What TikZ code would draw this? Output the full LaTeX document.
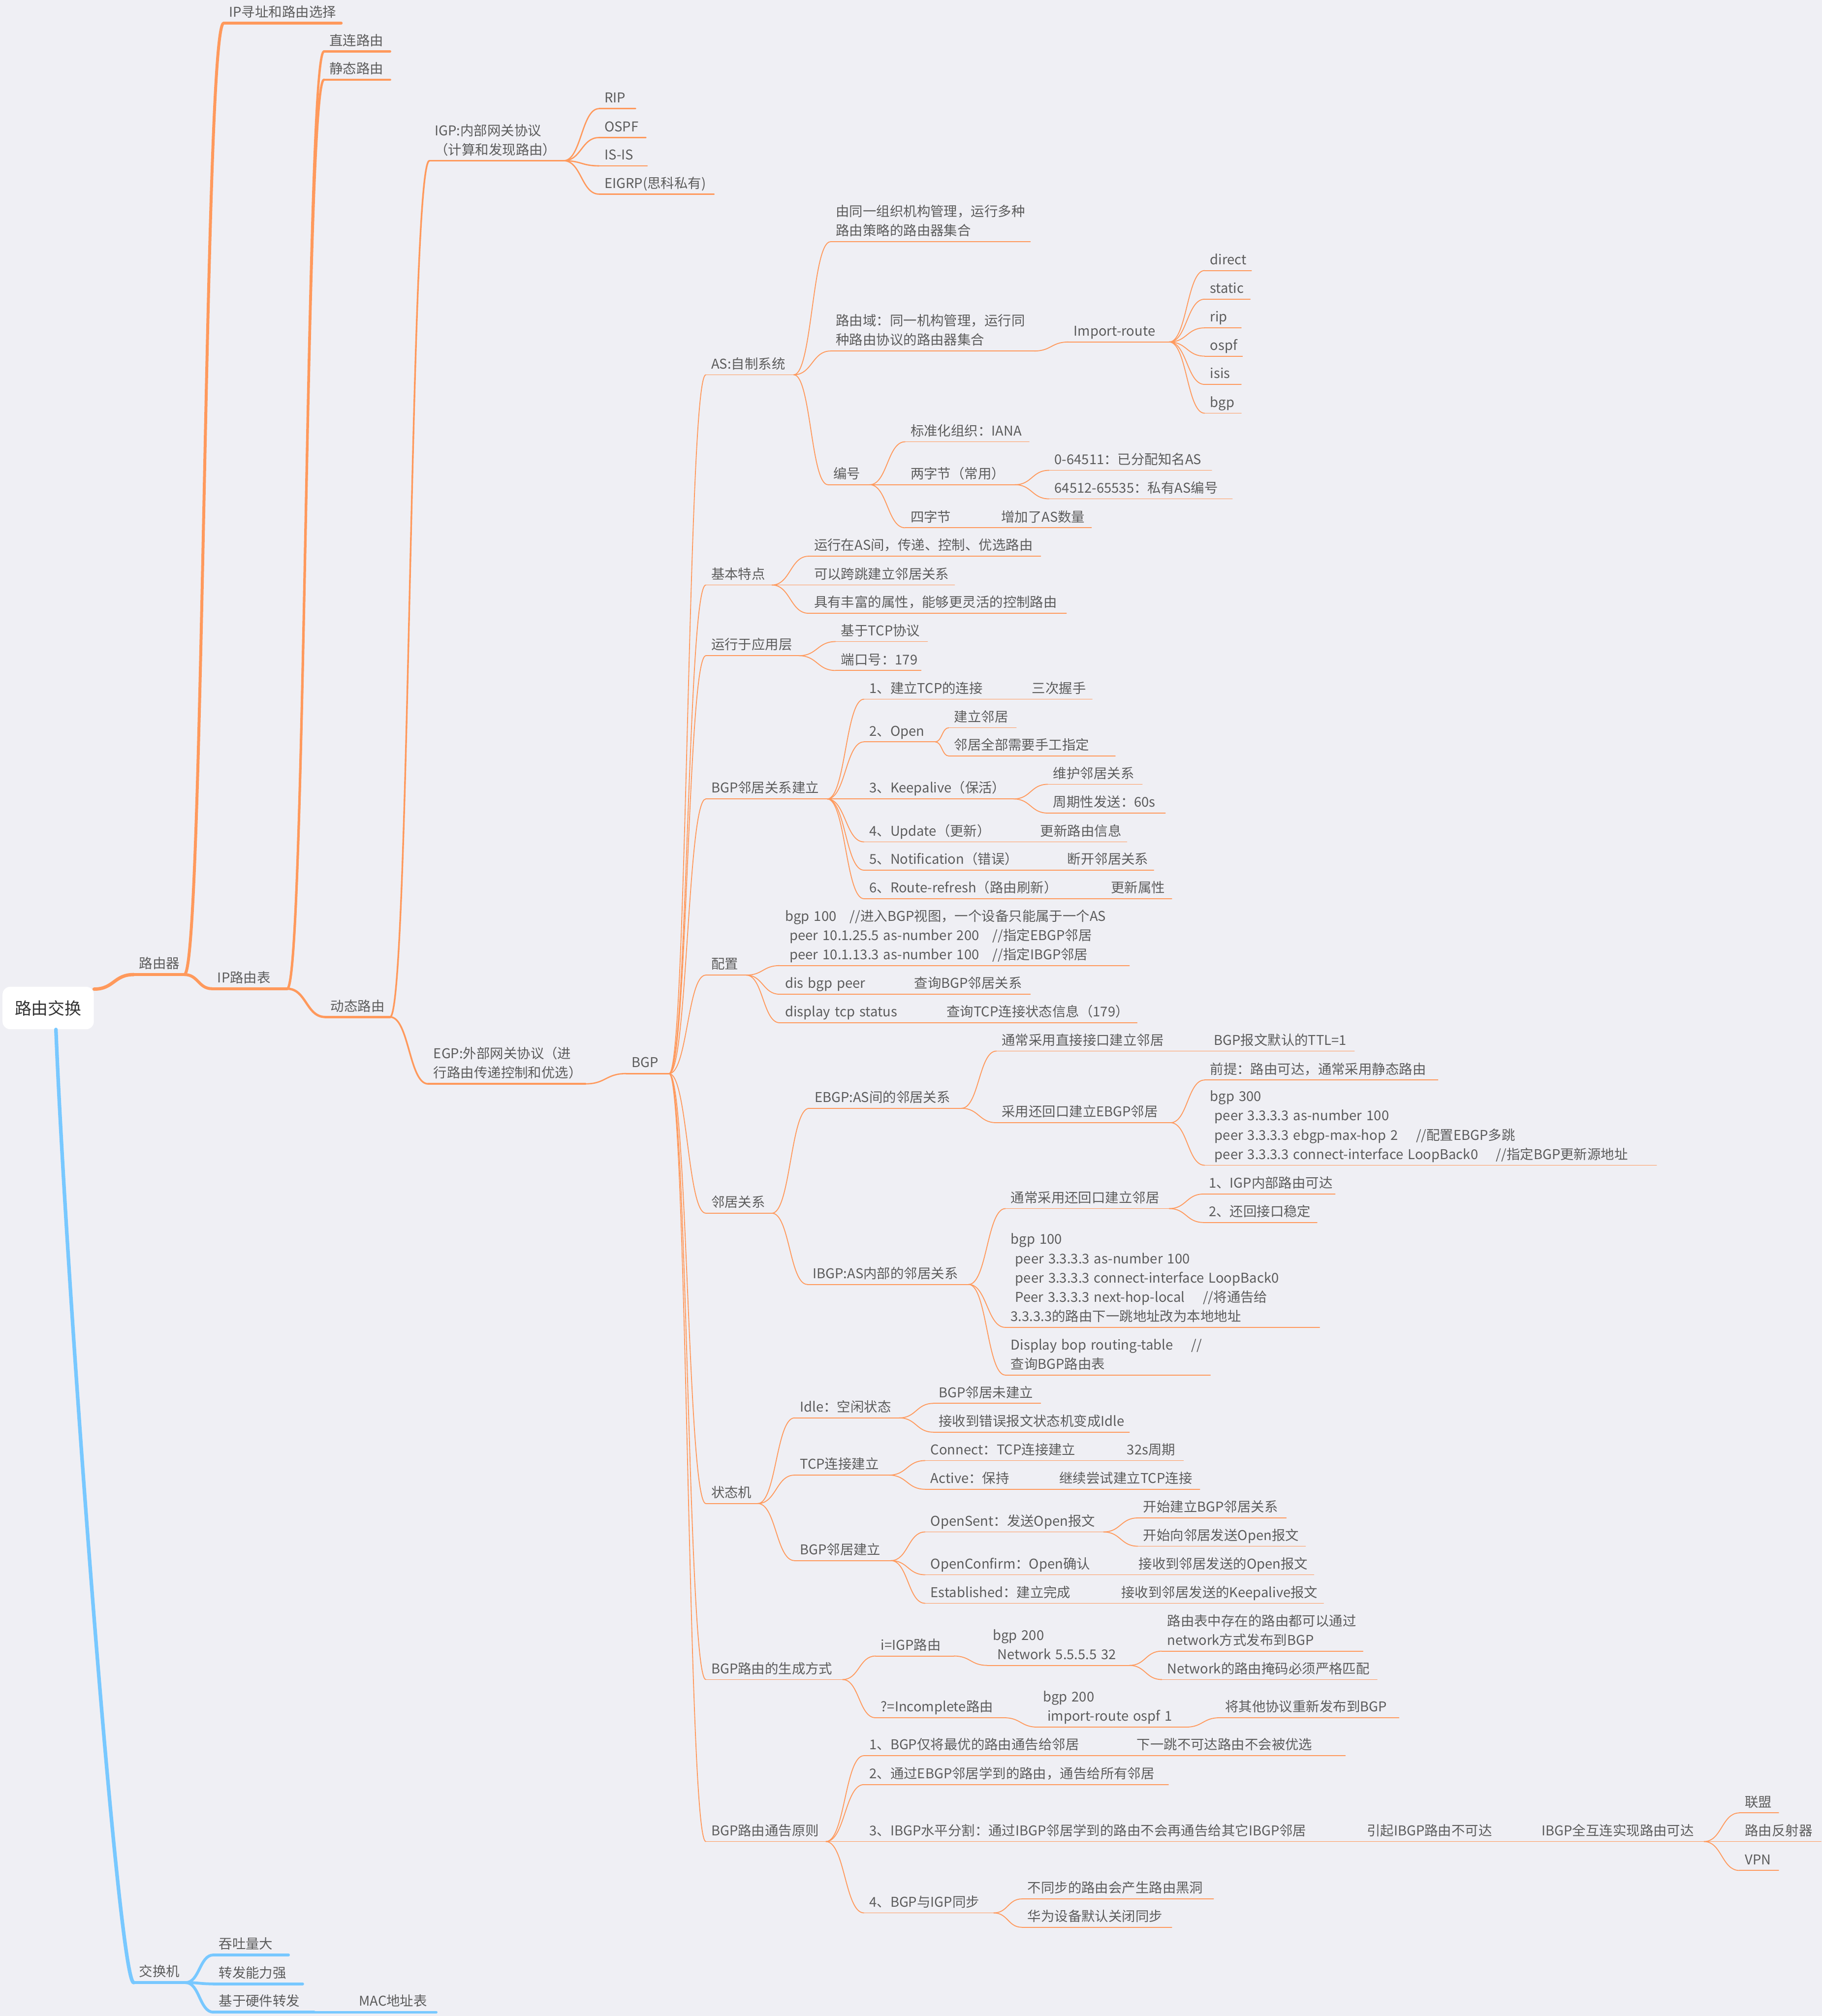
\documentclass[tikz,border=0pt]{standalone}
\usepackage{fontspec}
\setmainfont{Noto Sans CJK SC}
\usetikzlibrary{calc}
\definecolor{bg}{RGB}{239,239,244}
\definecolor{orng}{RGB}{255,153,92}
\definecolor{sky}{RGB}{120,200,255}
\definecolor{txt}{RGB}{92,92,92}
\definecolor{ink}{RGB}{51,51,51}
\begin{document}
\begin{tikzpicture}[x=1pt, y=-1pt,
  topic/.style={anchor=south west, inner xsep=4pt, inner ysep=0pt, align=left,
    text=txt, font=\fontsize{10.5}{15}\selectfont,
    execute at begin node={\hyphenpenalty=10000 \exhyphenpenalty=10000},
    execute at end node=\strut, text width=#1-8},
  ul/.style 2 args={append after command={(\tikzlastnode.south west)
    edge[line width=#1, draw=#2, line cap=round] (\tikzlastnode.south east)}},
  lvA/.style={topic=#1, ul={2.4pt}{orng}},
  lvB/.style={topic=#1, ul={2.2pt}{orng}},
  lvC/.style={topic=#1, ul={1.8pt}{orng}},
  lvD/.style={topic=#1, ul={1.3pt}{orng}},
  lvE/.style={topic=#1, ul={1pt}{orng}},
  lvF/.style={topic=#1, ul={0.7pt}{orng}},
  swA/.style={topic=#1, ul={2.4pt}{sky}},
  swB/.style={topic=#1, ul={2.2pt}{sky}},
  swC/.style={topic=#1, ul={1.8pt}{sky}},
  rootbox/.style={fill=white, rounded corners=6pt, minimum width=71pt,
    minimum height=33pt, inner sep=0pt, text=ink, font=\fontsize{13}{16}\selectfont},
  link/.style={line cap=round, to path={let \p1=(\tikztostart), \p2=(\tikztotarget) in
    .. controls ({(\x1+\x2)/2},\y1) and ({(\x1+\x2)/2},\y2) .. (\tikztotarget)}},
]

\useasboundingbox (0,0) rectangle (1417,1568);
\fill[bg] (0,0) rectangle (1417,1568);

%root
\node[rootbox] (root) at (37.5,784) {路由交换};

%router side
\node[lvA=39] (router) at (104,758) {路由器};
\node[lvB=91] (ipaddr) at (174,18) {IP寻址和路由选择};
\node[lvB=58] (iptable) at (165,769) {IP路由表};
\node[lvC=51] (direct) at (252,40) {直连路由};
\node[lvC=51] (static) at (252,62) {静态路由};
\node[lvC=50] (dynamic) at (253,791) {动态路由};
\node[lvD=104] (igp) at (334,125) {IGP:内部网关协议\\（计算和发现路由）};
\node[lvD=122] (egp) at (333,843) {EGP:外部网关协议（进\\行路由传递控制和优选）};
\node[lvE=28] (rip) at (466,84.5) {RIP};
\node[lvE=36] (ospf) at (466,107) {OSPF};
\node[lvE=37] (isis) at (466,129) {IS-IS};
\node[lvE=89] (eigrp) at (466,151) {EIGRP(思科私有)};
\node[lvE=33] (bgp) at (487,835) {BGP};

%bgp topics
\node[lvF=68] (as) at (549,291.5) {AS:自制系统};
\node[lvF=51] (basic) at (549,455) {基本特点};
\node[lvF=72] (app) at (549,510) {运行于应用层};
\node[lvF=94] (nbest) at (549,621.4) {BGP邻居关系建立};
\node[lvF=31] (cfg) at (549,758.4) {配置};
\node[lvF=51] (nbr) at (549,943.6) {邻居关系};
\node[lvF=40] (fsm) at (549,1169.4) {状态机};
\node[lvF=106] (gen) at (549,1306.3) {BGP路由的生成方式};
\node[lvF=93] (adv) at (549,1432.3) {BGP路由通告原则};

%as
\node[lvF=155] (asorg) at (646,188) {由同一组织机构管理，运行多种\\路由策略的路由器集合};
\node[lvF=158] (asdom) at (646,273) {路由域：同一机构管理，运行同\\种路由协议的路由器集合};
\node[lvF=78] (imp) at (831,266) {Import-route};
\node[lvF=36] (ird) at (937,210.4) {direct};
\node[lvF=35] (irs) at (937,232.7) {static};
\node[lvF=28] (irr) at (937,255) {rip};
\node[lvF=29] (iro) at (937,277) {ospf};
\node[lvF=28] (iri) at (937,299) {isis};
\node[lvF=28] (irb) at (937,321.4) {bgp};
\node[lvF=32] (asnum) at (644,377) {编号};
\node[lvF=96] (iana) at (704,343.6) {标准化组织：IANA};
\node[lvF=85] (two) at (704,377) {两字节（常用）};
\node[lvF=126] (pub) at (816,365.8) {0-64511：已分配知名AS};
\node[lvF=142] (priv) at (816,388) {64512-65535：私有AS编号};
\node[lvF=41] (four) at (704,410.5) {四字节};
\node[lvF=74] (more) at (774.5,410.5) {增加了AS数量};

%basic
\node[lvF=180] (bas1) at (629,432.6) {运行在AS间，传递、控制、优选路由};
\node[lvF=113] (bas2) at (629,455) {可以跨跳建立邻居关系};
\node[lvF=200] (bas3) at (629,477) {具有丰富的属性，能够更灵活的控制路由};
\node[lvF=71] (app1) at (650,499) {基于TCP协议};
\node[lvF=66] (app2) at (650,521.5) {端口号：179};

%neighbour setup
\node[lvF=97] (st1) at (672,543.8) {1、建立TCP的连接};
\node[lvF=50.5] (st1a) at (798.5,543.8) {三次握手};
\node[lvF=55] (st2) at (672,577) {2、Open};
\node[lvF=52] (st2a) at (738,566) {建立邻居};
\node[lvF=129] (st2b) at (738,588) {邻居全部需要手工指定};
\node[lvF=116] (st3) at (672,621.4) {3、Keepalive（保活）};
\node[lvF=73] (st3a) at (815,610) {维护邻居关系};
\node[lvF=91] (st3b) at (815,632.4) {周期性发送：60s};
\node[lvF=99] (st4) at (672,654.8) {4、Update（更新）};
\node[lvF=71] (st4a) at (805,654.8) {更新路由信息};
\node[lvF=120] (st5) at (672,676.8) {5、Notification（错误）};
\node[lvF=71] (st5a) at (826,676.8) {断开邻居关系};
\node[lvF=153] (st6) at (672,699) {6、Route-refresh（路由刷新）};
\node[lvF=51] (st6a) at (860,699) {更新属性};

%config
\node[lvF=271.5] (cfg1) at (606.5,751) {bgp~100\quad//进入BGP视图，一个设备只能属于一个AS\\~peer~10.1.25.5~as-number~200\quad//指定EBGP邻居\\~peer~10.1.13.3~as-number~100\quad//指定IBGP邻居};
\node[lvF=72] (cfg2) at (606.5,773.3) {dis~bgp~peer};
\node[lvF=94] (cfg2a) at (707,773.3) {查询BGP邻居关系};
\node[lvF=97] (cfg3) at (606.5,795.5) {display~tcp~status};
\node[lvF=152] (cfg3a) at (732,795.5) {查询TCP连接状态信息（179）};

%neighbours
\node[lvF=118] (ebgp) at (629.4,862) {EBGP:AS间的邻居关系};
\node[lvF=137] (ebgp1) at (775,817.5) {通常采用直接接口建立邻居};
\node[lvF=113] (ebgp1a) at (940,817.5) {BGP报文默认的TTL=1};
\node[lvF=135] (ebgp2) at (775,873.2) {采用还回口建立EBGP邻居};
\node[lvF=181] (ebgp2a) at (937,840) {前提：路由可达，通常采用静态路由};
\node[lvF=351] (ebgp2b) at (937,906.3) {bgp~300\\~peer~3.3.3.3~as-number~100\\~peer~3.3.3.3~ebgp-max-hop~2\quad~//配置EBGP多跳\\~peer~3.3.3.3~connect-interface~LoopBack0\quad~//指定BGP更新源地址};
\node[lvF=125] (ibgp) at (628,999) {IBGP:AS内部的邻居关系};
\node[lvF=127] (ibgp1) at (782,940) {通常采用还回口建立邻居};
\node[lvF=102] (ibgp1a) at (936,928.7) {1、IGP内部路由可达};
\node[lvF=88] (ibgp1b) at (936,950.8) {2、还回接口稳定};
\node[lvF=244] (ibgp2) at (782,1032.4) {bgp~100\\~peer~3.3.3.3~as-number~100\\~peer~3.3.3.3~connect-interface~LoopBack0\\~Peer~3.3.3.3~next-hop-local\quad~//将通告给\\3.3.3.3的路由下一跳地址改为本地地址};
\node[lvF=159] (ibgp3) at (782,1069.5) {Display~bop~routing-table\quad~//\\查询BGP路由表};

%state machine
\node[lvF=81] (idle) at (618,1102.8) {Idle：空闲状态};
\node[lvF=83] (idle1) at (726,1091.5) {BGP邻居未建立};
\node[lvF=152] (idle2) at (726,1113.9) {接收到错误报文状态机变成Idle};
\node[lvF=73] (tcpc) at (618,1147.3) {TCP连接建立};
\node[lvF=124] (con) at (719.6,1136) {Connect：TCP连接建立};
\node[lvF=47.6] (con1) at (872.4,1136) {32s周期};
\node[lvF=70.4] (act) at (719.6,1158.3) {Active：保持};
\node[lvF=113] (act1) at (819.8,1158.3) {继续尝试建立TCP连接};
\node[lvF=74.5] (bgpe) at (618,1213.8) {BGP邻居建立};
\node[lvF=138.3] (osent) at (719.6,1191.5) {OpenSent：发送Open报文};
\node[lvF=115] (osent1) at (885,1180.6) {开始建立BGP邻居关系};
\node[lvF=130] (osent2) at (885,1202.6) {开始向邻居发送Open报文};
\node[lvF=133] (oconf) at (719.6,1224.8) {OpenConfirm：Open确认};
\node[lvF=140] (oconf1) at (881.5,1224.8) {接收到邻居发送的Open报文};
\node[lvF=119.4] (estab) at (719.6,1247) {Established：建立完成};
\node[lvF=161] (estab1) at (868,1247) {接收到邻居发送的Keepalive报文};

%route generation
\node[lvF=60.5] (igpr) at (681,1288) {i=IGP路由};
\node[lvF=110] (net) at (768,1295.3) {bgp~200\\~Network~5.5.5.5~32};
\node[lvF=156] (net1) at (903.7,1284.2) {路由表中存在的路由都可以通过\\network方式发布到BGP};
\node[lvF=167] (net2) at (903.7,1306.3) {Network的路由掩码必须严格匹配};
\node[lvF=99.5] (incr) at (681,1336) {?=Incomplete路由};
\node[lvF=115] (imp2) at (807,1343.3) {bgp~200\\~import-route~ospf~1};
\node[lvF=139] (imp2a) at (948.7,1336) {将其他协议重新发布到BGP};

%advertisement
\node[lvF=172] (adv1) at (672,1365.5) {1、BGP仅将最优的路由通告给邻居};
\node[lvF=166] (adv1a) at (880,1365.5) {下一跳不可达路由不会被优选};
\node[lvF=236.4] (adv2) at (672,1388) {2、通过EBGP邻居学到的路由，通告给所有邻居};
\node[lvF=353] (adv3) at (672,1432.3) {3、IBGP水平分割：通过IBGP邻居学到的路由不会再通告给其它IBGP邻居};
\node[lvF=108] (adv3a) at (1059,1432.3) {引起IBGP路由不可达};
\node[lvF=130] (adv3b) at (1195,1432.3) {IBGP全互连实现路由可达};
\node[lvF=30] (fed) at (1353,1410) {联盟};
\node[lvF=63] (rr) at (1353,1432.3) {路由反射器};
\node[lvF=30] (vpn) at (1353,1454.8) {VPN};
\node[lvF=100.5] (adv4) at (672,1487.8) {4、BGP与IGP同步};
\node[lvF=148.5] (adv4a) at (795,1476.9) {不同步的路由会产生路由黑洞};
\node[lvF=116] (adv4b) at (795,1499) {华为设备默认关闭同步};

%switch side
\node[swA=40] (switch) at (104,1542) {交换机};
\node[swB=58] (tput) at (166,1520.5) {吞吐量大};
\node[swB=69] (fwd) at (166,1543) {转发能力强};
\node[swB=78] (hw) at (166,1565) {基于硬件转发};
\node[swC=64] (mac) at (275,1565) {MAC地址表};

%branches
\draw[link, orng, line width=2.6pt] ([yshift=-2pt]root.north east) to (router.south west);
\draw[sky, line width=2.8pt, line cap=round] ([xshift=6pt]root.south) .. controls +(8,200) and +(-12,0) .. (switch.south west);
\foreach \a/\b in {router/ipaddr, router/iptable}
  \draw[link, orng, line width=2.3pt] (\a.south east) to (\b.south west);
\foreach \a/\b in {iptable/direct, iptable/static, iptable/dynamic}
  \draw[link, orng, line width=1.8pt] (\a.south east) to (\b.south west);
\foreach \a/\b in {dynamic/igp, dynamic/egp}
  \draw[link, orng, line width=1.3pt] (\a.south east) to (\b.south west);
\foreach \a/\b in {igp/rip, igp/ospf, igp/isis, igp/eigrp, egp/bgp}
  \draw[link, orng, line width=1pt] (\a.south east) to (\b.south west);
\foreach \a/\b in {bgp/as, bgp/basic, bgp/app, bgp/nbest, bgp/cfg, bgp/nbr, bgp/fsm, bgp/gen, bgp/adv,
    as/asorg, as/asdom, as/asnum, asdom/imp, imp/ird, imp/irs, imp/irr, imp/iro, imp/iri, imp/irb,
    asnum/iana, asnum/two, asnum/four, two/pub, two/priv, four/more,
    basic/bas1, basic/bas2, basic/bas3, app/app1, app/app2,
    nbest/st1, nbest/st2, nbest/st3, nbest/st4, nbest/st5, nbest/st6,
    st1/st1a, st2/st2a, st2/st2b, st3/st3a, st3/st3b, st4/st4a, st5/st5a, st6/st6a,
    cfg/cfg1, cfg/cfg2, cfg/cfg3, cfg2/cfg2a, cfg3/cfg3a,
    nbr/ebgp, nbr/ibgp, ebgp/ebgp1, ebgp/ebgp2, ebgp1/ebgp1a, ebgp2/ebgp2a, ebgp2/ebgp2b,
    ibgp/ibgp1, ibgp/ibgp2, ibgp/ibgp3, ibgp1/ibgp1a, ibgp1/ibgp1b,
    fsm/idle, fsm/tcpc, fsm/bgpe, idle/idle1, idle/idle2, tcpc/con, tcpc/act, con/con1, act/act1,
    bgpe/osent, bgpe/oconf, bgpe/estab, osent/osent1, osent/osent2, oconf/oconf1, estab/estab1,
    gen/igpr, gen/incr, igpr/net, net/net1, net/net2, incr/imp2, imp2/imp2a,
    adv/adv1, adv/adv2, adv/adv3, adv/adv4, adv1/adv1a, adv3/adv3a, adv3a/adv3b,
    adv3b/fed, adv3b/rr, adv3b/vpn, adv4/adv4a, adv4/adv4b}
  \draw[link, orng, line width=0.7pt] (\a.south east) to (\b.south west);
\foreach \a/\b in {switch/tput, switch/fwd, switch/hw}
  \draw[link, sky, line width=2.2pt] (\a.south east) to (\b.south west);
\draw[link, sky, line width=1.8pt] (hw.south east) to (mac.south west);

\end{tikzpicture}
\end{document}
